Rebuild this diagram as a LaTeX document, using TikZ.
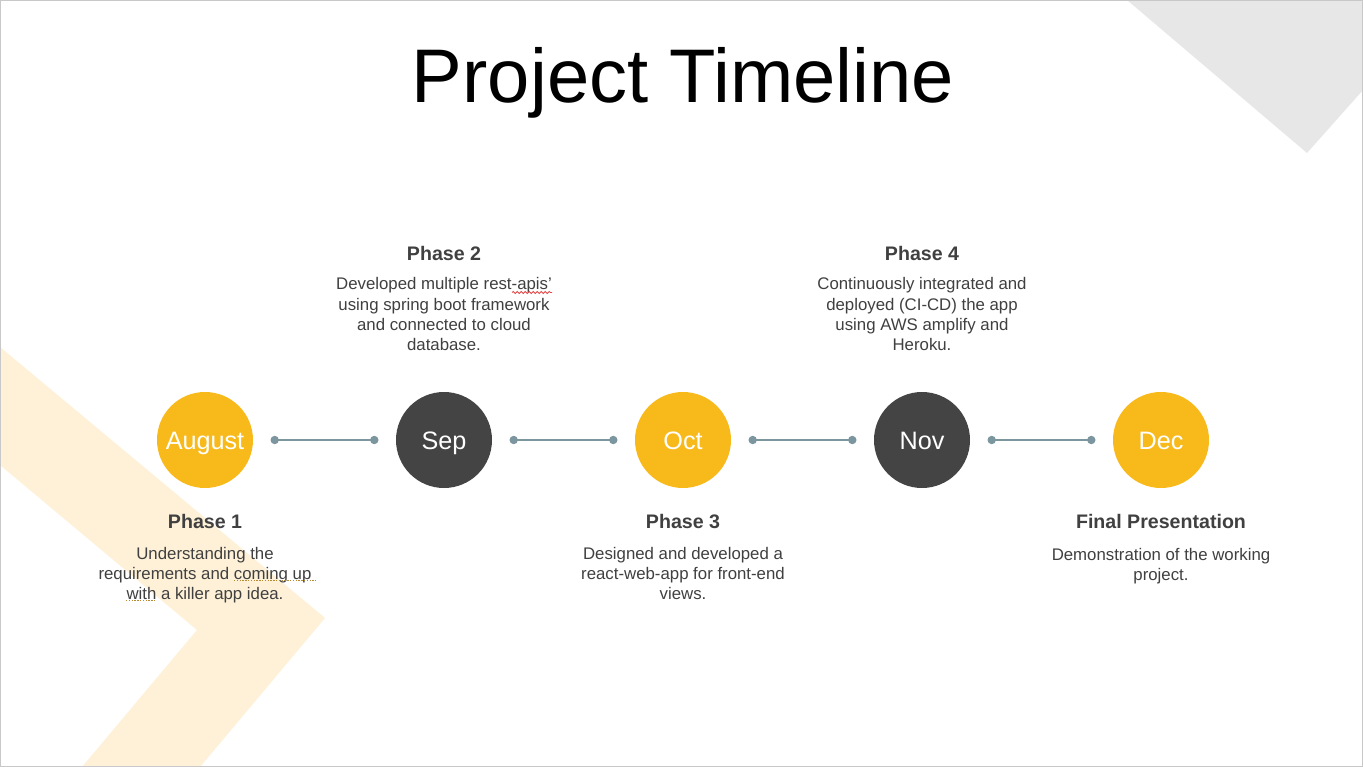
\documentclass[tikz,border=0pt]{standalone}
\usepackage{fontspec}
\setmainfont{Liberation Sans}
\usetikzlibrary{calc,decorations.pathmorphing}

\definecolor{accent}{HTML}{F8BA1B}
\definecolor{charcoal}{HTML}{444444}
\definecolor{linkblue}{HTML}{7B969F}
\definecolor{bodytext}{HTML}{404040}
\definecolor{cream}{HTML}{FEF1D8}
\definecolor{cornergray}{HTML}{E7E7E7}
\definecolor{slideframe}{HTML}{C8C8C8}
\definecolor{spellred}{HTML}{E04848}
\definecolor{grammarmark}{HTML}{B88A30}

\begin{document}
\begin{tikzpicture}[x=1pt,y=-1pt,
  month/.style={circle, minimum size=96pt, inner sep=0pt, text=white,
    font=\fontsize{25.2}{30}\selectfont, text height=18pt, text depth=0pt},
  warm/.style={month, fill=accent},
  dark/.style={month, fill=charcoal},
  heading/.style={anchor=base, inner sep=0pt, text=bodytext,
    font=\bfseries\fontsize{19.6}{24}\selectfont},
  % multi-line blocks are placed by the baseline of their last line
  body/.style={anchor=base, inner sep=0pt, align=center, text=bodytext,
    font=\fontsize{16.8}{20.2}\selectfont},
  link/.style={draw=linkblue, line width=2pt},
  linkdot/.style={fill=linkblue},
  spelling/.style={draw=spellred, line width=0.8pt, decorate,
    decoration={snake, amplitude=1pt, segment length=4pt}},
  grammar/.style={draw=grammarmark, line width=1.5pt, dash pattern=on 1.3pt off 1.5pt}]

\useasboundingbox (0,0) rectangle (1363,767);
\fill[white] (0,0) rectangle (1363,767);

% background decorations
\fill[cornergray] (1127,0) -- (1307,153) -- (1363,90) -- (1363,0) -- cycle;
\fill[cream] (0,347) -- (325,618) -- (200,767) -- (82,767) -- (197,630) -- (0,465) -- cycle;

% title
\node[anchor=base, inner sep=0pt, font=\fontsize{76}{90}\selectfont] (title) at (683,103) {Project Timeline};

% month circles
\node[warm] (aug) at (205,440) {August};
\node[dark] (sep) at (444,440) {Sep};
\node[warm] (oct) at (683,440) {Oct};
\node[dark] (nov) at (922,440) {Nov};
\node[warm] (dec) at (1161,440) {Dec};

% connectors between months
\foreach \a/\b [count=\i] in {aug/sep, sep/oct, oct/nov, nov/dec} {
  \coordinate (l\i a) at ($(\a.east)+(21.5,0)$);
  \coordinate (l\i b) at ($(\b.west)+(-21.5,0)$);
  \draw[link] (l\i a) -- (l\i b);
  \fill[linkdot] (l\i a) circle (4.2pt);
  \fill[linkdot] (l\i b) circle (4.2pt);
}

% phase descriptions
\node[heading] (h1) at (205,528) {Phase 1};
\node[body] (t1) at (205,599.4) {Understanding the\\requirements and coming up\\with a killer app idea.};

\node[heading] (h2) at (444,261) {Phase 2};
\node[body] (t2) at (444,350.6) {Developed multiple rest-apis’\\using spring boot framework\\and connected to cloud\\database.};

\node[heading] (h3) at (683,528) {Phase 3};
\node[body] (t3) at (683,599.4) {Designed and developed a\\react-web-app for front-end\\views.};

\node[heading] (h4) at (922,261) {Phase 4};
\node[body] (t4) at (922,350.6) {Continuously integrated and\\deployed (CI-CD) the app\\using AWS amplify and\\Heroku.};

\node[heading] (h5) at (1161,528) {Final Presentation};
\node[body] (t5) at (1161,580.2) {Demonstration of the working\\project.};

% proofing marks under words
\draw[spelling] (512,292.5) -- (552,292.5);
\draw[grammar] (234,580.5) -- (316,580.5);
\draw[grammar] (126,600.5) -- (156,600.5);

% slide frame
\draw[slideframe, line width=1.2pt] (0.6,0.6) rectangle (1362.4,766.4);
\end{tikzpicture}
\end{document}
